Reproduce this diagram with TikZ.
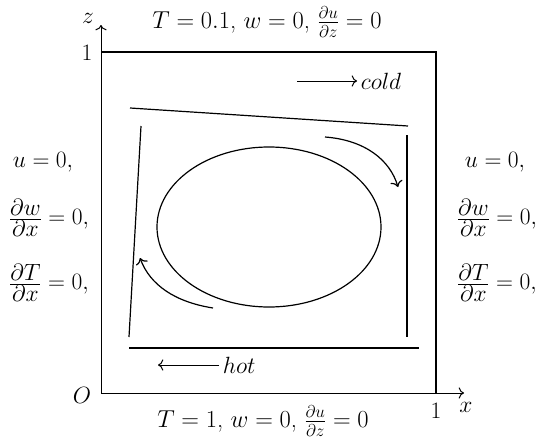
\RequirePackage{fix-cm}
\documentclass[tikz,border=0pt]{standalone}
\usepackage{amsmath}
\usepackage{amsfonts}
\usetikzlibrary{arrows.meta}

\newcommand{\pfrac}[2]{\frac{\displaystyle #1}{\displaystyle #2}}

\begin{document}
\begin{tikzpicture}[x=1pt, y=-1pt, line width=1.2pt, font=\fontsize{23.5}{28}\selectfont]
        \useasboundingbox (0,0) rectangle (536,439);

        % 坐标轴
        \coordinate (O) at (101,393);
        \draw[-{To[scale=1.4]}, line width=1pt] (O) -- (464,393) coordinate (xtip);
        \draw[-{To[scale=1.4]}, line width=1pt] (O) -- (101,25) coordinate (ztip);
        \node (xlab) at (466,407) {$x$};
        \node (zlab) at (88,18) {$z$};
        \node (olab) at (82,395) {$O$};
        \node (xone) at (436,411) {$1$};
        \node (zone) at (87,53) {$1$};

        % 区域
        \draw (101,52) -- (436,52) -- (436,393);

        % 边界条件
        \node[font=\fontsize{24.5}{28}\selectfont] (top) at (267,22) {$T=0.1$, $w=0$, $\frac{\partial u}{\partial z}=0$};
        \node[font=\fontsize{24.5}{28}\selectfont] (bottom) at (263,421) {$T=1$, $w=0$, $\frac{\partial u}{\partial z}=0$};
        \node (lu) at (43,162) {$u=0,$};
        \node (lw) at (49,218) {$\pfrac{\partial w}{\partial x}=0,$};
        \node (lt) at (49,283) {$\pfrac{\partial T}{\partial x}=0,$};
        \node (ru) at (495,162) {$u=0,$};
        \node (rw) at (497,218) {$\pfrac{\partial w}{\partial x}=0,$};
        \node (rt) at (497,283) {$\pfrac{\partial T}{\partial x}=0,$};

        % 冷热
        \node[anchor=west] (cold) at (357,81) {$cold$};
        \draw[-{To[scale=1.4]}, line width=1pt] (297,81) -- (cold.west);
        \node[anchor=west] (hot) at (219,365) {$hot$};
        \draw[-{To[scale=1.4]}, line width=1pt] (hot.west) -- (158,365);

        % 对流
        \draw (130,108) -- (408,126);
        \draw (141,126) -- (129,337);
        \draw (407,135) -- (407,337);
        \draw (129,348) -- (419,348);
        \draw (269,227) ellipse (112 and 80);
        \draw[-{To[scale=1.4]}] (325,137) .. controls (365,140) and (390,160) .. (398,187);
        \draw[-{To[scale=1.4]}] (213,308) .. controls (175,302) and (150,285) .. (140,258);
    \end{tikzpicture}
\end{document}
